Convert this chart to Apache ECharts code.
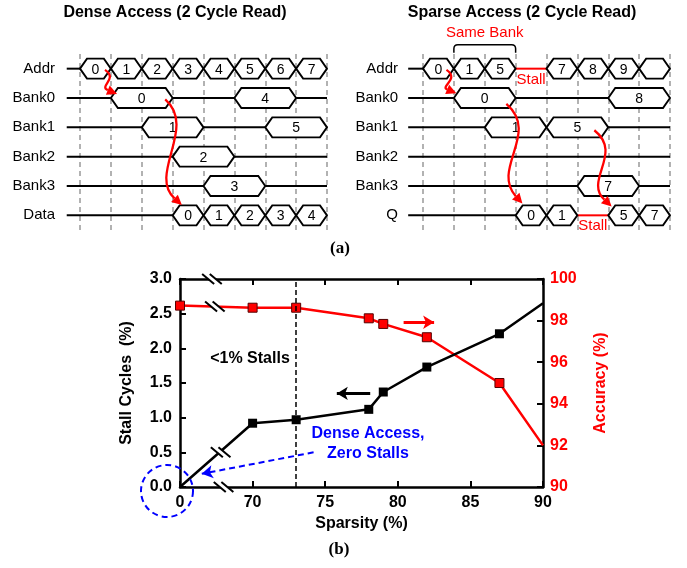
<!DOCTYPE html>
<html>
<head>
<meta charset="utf-8">
<script src="https://cdn.jsdelivr.net/npm/echarts@6/dist/echarts.min.js"></script>
<style>
  html, body { margin: 0; padding: 0; background: #fff; }
  #chart { width: 687px; height: 568px; }
</style>
</head>
<body>
<div id="chart"></div>
<script>
// ---- (a) timing diagrams ----
const denseRows = ['Addr', 'Bank0', 'Bank1', 'Bank2', 'Bank3', 'Data'];
const sparseRows = ['Addr', 'Bank0', 'Bank1', 'Bank2', 'Bank3', 'Q'];

// [row, startCycle, endCycle, color, label]
const denseWires = [
  [0, -0.43, 0], [1, -0.43, 1], [1, 3, 5], [1, 7, 8],
  [2, -0.43, 2], [2, 4, 6], [3, -0.43, 3], [3, 5, 8],
  [4, -0.43, 4], [4, 6, 8], [5, -0.43, 3]
];
// [row, startCycle, endCycle, text]
const denseHex = [
  [0, 0, 1, '0'], [0, 1, 2, '1'], [0, 2, 3, '2'], [0, 3, 4, '3'],
  [0, 4, 5, '4'], [0, 5, 6, '5'], [0, 6, 7, '6'], [0, 7, 8, '7'],
  [1, 1, 3, '0'], [1, 5, 7, '4'], [2, 2, 4, '1'], [2, 6, 8, '5'],
  [3, 3, 5, '2'], [4, 4, 6, '3'],
  [5, 3, 4, '0'], [5, 4, 5, '1'], [5, 5, 6, '2'], [5, 6, 7, '3'], [5, 7, 8, '4']
];
// bezier: start, ctrl1, ctrl2, end as [cycle, row]
const denseArrows = [
  [0.81, 0.04, 1.25, 0.35, 0.6, 0.6, 1.2, 0.86],
  [2.76, 1.05, 3.8, 2.0, 2.2, 3.6, 3.3, 4.65]
];

const sparseWires = [
  [0, -0.48, 0], [0, 3, 4, '#ff0000', 'Stall'], [1, -0.48, 1], [1, 3, 6],
  [2, -0.48, 2], [2, 6, 8], [3, -0.48, 8], [4, -0.48, 5], [4, 7, 8],
  [5, -0.48, 3], [5, 5, 6, '#ff0000', 'Stall']
];
const sparseHex = [
  [0, 0, 1, '0'], [0, 1, 2, '1'], [0, 2, 3, '5'], [0, 4, 5, '7'],
  [0, 5, 6, '8'], [0, 6, 7, '9'], [0, 7, 8, ''],
  [1, 1, 3, '0'], [1, 6, 8, '8'], [2, 2, 4, '1'], [2, 4, 6, '5'],
  [4, 5, 7, '7'],
  [5, 3, 4, '0'], [5, 4, 5, '1'], [5, 6, 7, '5'], [5, 7, 8, '7']
];
const sparseArrows = [
  [0.76, 0.04, 1.2, 0.35, 0.55, 0.6, 1.08, 0.84],
  [2.7, 1.2, 3.8, 2.2, 2.2, 3.4, 3.22, 4.6],
  [5.55, 2.1, 6.5, 2.9, 5.2, 3.8, 6.11, 4.7]
];
const sameBank = [1, 3, 'Same Bank'];

// ---- (b) stall cycles / accuracy vs sparsity ----
const sparsity = [0, 70, 73, 78, 79, 82, 87, 90];
const stallCycles = [0, 0.92, 0.97, 1.12, 1.37, 1.73, 2.21, 2.65];
const accuracy = [98.72, 98.62, 98.62, 98.11, 97.84, 97.2, 95.0, 92.0];

// 축 끊김: 0% 는 65 위치에 그림
const AXIS_START = 65;
const xPos = s => (s === 0 ? AXIS_START : s);

const stallBreaks = [[67.2, 3.0], [68.0, 0], [67.8, 0.5]];
const accBreaks = [[67.4, 98.68]];

const FONT = 'Arial, "Liberation Sans", sans-serif';
const RED = '#ff0000';
const BLUE = '#0000ff';

function wireRenderer(list) {
  return function (params, api) {
    const [row, x0, x1, color, label] = list[params.dataIndex];
    const a = api.coord([x0, row]);
    const b = api.coord([x1, row]);
    const children = [{
      type: 'line',
      shape: { x1: a[0], y1: a[1], x2: b[0], y2: b[1] },
      style: { stroke: color || '#000', lineWidth: 2 }
    }];
    if (label) {
      children.push({
        type: 'text',
        style: {
          text: label, x: (a[0] + b[0]) / 2, y: a[1] + 11,
          align: 'center', verticalAlign: 'middle',
          font: '15px ' + FONT, fill: RED
        }
      });
    }
    return { type: 'group', children };
  };
}

function hexRenderer(list) {
  return function (params, api) {
    const [row, x0, x1, text] = list[params.dataIndex];
    const a = api.coord([x0, row]);
    const b = api.coord([x1, row]);
    const y = a[1], h = 10, s = 7;
    return {
      type: 'group',
      children: [
        {
          type: 'polygon',
          shape: { points: [[a[0], y], [a[0] + s, y - h], [b[0] - s, y - h], [b[0], y], [b[0] - s, y + h], [a[0] + s, y + h]] },
          style: { fill: '#fff', stroke: '#000', lineWidth: 1.9 }
        },
        {
          type: 'text',
          style: {
            text, x: (a[0] + b[0]) / 2, y: y + 1,
            align: 'center', verticalAlign: 'middle',
            font: '14px ' + FONT, fill: '#000'
          }
        }
      ]
    };
  };
}

function arrowRenderer(list) {
  return function (params, api) {
    const c = list[params.dataIndex];
    const origin = api.coord([0, 0]);
    const step = api.coord([0, 1])[1] - origin[1];
    const pt = (x, r) => [api.coord([x, 0])[0], origin[1] + r * step];
    const p0 = pt(c[0], c[1]), p1 = pt(c[2], c[3]), p2 = pt(c[4], c[5]), p3 = pt(c[6], c[7]);
    const dx = p3[0] - p2[0], dy = p3[1] - p2[1];
    const len = Math.hypot(dx, dy);
    const ux = dx / len, uy = dy / len;
    const L = 10, W = 5;
    const base = [p3[0] - ux * L, p3[1] - uy * L];
    return {
      type: 'group',
      children: [
        {
          type: 'bezierCurve',
          shape: { x1: p0[0], y1: p0[1], cpx1: p1[0], cpy1: p1[1], cpx2: p2[0], cpy2: p2[1], x2: base[0], y2: base[1] },
          style: { stroke: RED, lineWidth: 2.3, fill: null }
        },
        {
          type: 'polygon',
          shape: { points: [p3, [base[0] - uy * W, base[1] + ux * W], [base[0] + uy * W, base[1] - ux * W]] },
          style: { fill: RED }
        }
      ]
    };
  };
}

function bracketRenderer(params, api) {
  const a = api.coord([sameBank[0], 0]);
  const b = api.coord([sameBank[1], 0]);
  const y = a[1] - 24;
  const r = 4;
  return {
    type: 'group',
    children: [
      {
        type: 'path',
        shape: {
          pathData: `M${a[0]},${y + 8} L${a[0]},${y + r} Q${a[0]},${y} ${a[0] + r},${y} L${b[0] - r},${y} Q${b[0]},${y} ${b[0]},${y + r} L${b[0]},${y + 8}`
        },
        style: { stroke: '#000', lineWidth: 1.5, fill: null }
      },
      {
        type: 'text',
        style: {
          text: sameBank[2], x: (a[0] + b[0]) / 2, y: y - 12,
          align: 'center', verticalAlign: 'middle',
          font: '15px ' + FONT, fill: RED
        }
      }
    ]
  };
}

function breakRenderer(list) {
  return function (params, api) {
    const p = api.coord(list[params.dataIndex]);
    const [cx, cy] = p;
    const sx = 6, sy = 5, off = 3.8;
    return {
      type: 'group',
      children: [
        {
          type: 'polygon',
          shape: { points: [[cx - sx - off, cy - sy], [cx - sx + off, cy - sy], [cx + sx + off, cy + sy], [cx + sx - off, cy + sy]] },
          style: { fill: '#fff' }
        },
        { type: 'line', shape: { x1: cx - sx - off, y1: cy - sy, x2: cx + sx - off, y2: cy + sy }, style: { stroke: '#000', lineWidth: 2 } },
        { type: 'line', shape: { x1: cx - sx + off, y1: cy - sy, x2: cx + sx + off, y2: cy + sy }, style: { stroke: '#000', lineWidth: 2 } }
      ]
    };
  };
}

function timingXAxis(gridIndex) {
  return {
    gridIndex, type: 'value', min: 0, max: 8, interval: 1,
    axisLine: { show: false }, axisTick: { show: false }, axisLabel: { show: false },
    splitLine: { show: true, lineStyle: { color: '#999', width: 1.5, type: [5, 4] } }
  };
}

function timingYAxis(gridIndex, rows) {
  return {
    gridIndex, type: 'category', data: rows, inverse: true,
    axisLine: { show: false }, axisTick: { show: false }, splitLine: { show: false },
    axisLabel: { color: '#000', fontSize: 15, fontFamily: FONT, margin: 25 }
  };
}

function customSeries(name, xi, yi, list, renderItem, z) {
  return {
    name, type: 'custom', xAxisIndex: xi, yAxisIndex: yi, clip: false, silent: true, z,
    data: list.map(d => [d[0], d[1]]),
    renderItem
  };
}

const axisLineStyle = { color: '#000', width: 2.5 };
const boldLabel = { color: '#000', fontSize: 16, fontWeight: 'bold', fontFamily: FONT };

const chart = echarts.init(document.getElementById('chart'));

chart.setOption({
  animation: false,
  backgroundColor: '#fff',
  grid: [
    { left: 80, top: 54, width: 247, height: 176 },
    { left: 423, top: 54, width: 247, height: 176 },
    { left: 180, right: 144, top: 279, bottom: 81 }
  ],
  xAxis: [
    timingXAxis(0),
    timingXAxis(1),
    {
      gridIndex: 2, type: 'value', min: 65, max: 90, interval: 5,
      axisLine: { lineStyle: axisLineStyle },
      axisTick: { inside: true, length: 6, lineStyle: { width: 2, color: '#000' } },
      axisLabel: { ...boldLabel, margin: 8, formatter: v => (v === AXIS_START ? '0' : String(v)) },
      splitLine: { show: false },
      name: 'Sparsity (%)', nameLocation: 'middle', nameGap: 29,
      nameTextStyle: { ...boldLabel }
    },
    {
      gridIndex: 2, type: 'value', min: 65, max: 90, interval: 5, position: 'top',
      axisLine: { lineStyle: axisLineStyle },
      axisTick: { inside: true, length: 6, lineStyle: { width: 2, color: '#000' } },
      axisLabel: { show: false }, splitLine: { show: false }
    }
  ],
  yAxis: [
    timingYAxis(0, denseRows),
    timingYAxis(1, sparseRows),
    {
      gridIndex: 2, type: 'value', min: 0, max: 3, interval: 0.5, position: 'left',
      axisLine: { show: true, lineStyle: axisLineStyle },
      axisTick: { show: true, inside: true, length: 6, lineStyle: { width: 2, color: '#000' } },
      axisLabel: { ...boldLabel, margin: 8, formatter: v => v.toFixed(1) },
      splitLine: { show: false },
      name: 'Stall Cycles  (%)', nameLocation: 'middle', nameGap: 45, nameRotate: 90,
      nameTextStyle: { ...boldLabel }
    },
    {
      gridIndex: 2, type: 'value', min: 90, max: 100, interval: 2, position: 'right',
      axisLine: { show: true, lineStyle: axisLineStyle },
      axisTick: { show: true, inside: true, length: 6, lineStyle: { width: 2, color: '#000' } },
      axisLabel: { ...boldLabel, color: RED, margin: 7 },
      splitLine: { show: false },
      name: 'Accuracy (%)', nameLocation: 'middle', nameGap: 50, nameRotate: 90,
      nameTextStyle: { ...boldLabel, color: RED }
    }
  ],
  graphic: [
    { type: 'text', x: 175, y: 13, style: { text: 'Dense Access (2 Cycle Read)', align: 'center', verticalAlign: 'middle', font: 'bold 16px ' + FONT, fill: '#000' } },
    { type: 'text', x: 522, y: 13, style: { text: 'Sparse Access (2 Cycle Read)', align: 'center', verticalAlign: 'middle', font: 'bold 16px ' + FONT, fill: '#000' } },
    { type: 'text', x: 340, y: 249, style: { text: '(a)', align: 'center', verticalAlign: 'middle', font: 'bold 17px "Liberation Serif", "Times New Roman", serif', fill: '#000' } },
    { type: 'text', x: 339, y: 550, style: { text: '(b)', align: 'center', verticalAlign: 'middle', font: 'bold 17px "Liberation Serif", "Times New Roman", serif', fill: '#000' } },
    { type: 'text', x: 250, y: 359, style: { text: '<1% Stalls', align: 'center', verticalAlign: 'middle', font: 'bold 16px ' + FONT, fill: '#000' } },
    { type: 'text', x: 368, y: 434, style: { text: 'Dense Access,', align: 'center', verticalAlign: 'middle', font: 'bold 16px ' + FONT, fill: BLUE } },
    { type: 'text', x: 368, y: 454, style: { text: 'Zero Stalls', align: 'center', verticalAlign: 'middle', font: 'bold 16px ' + FONT, fill: BLUE } }
  ],
  series: [
    customSeries('denseWires', 0, 0, denseWires.map(d => [d[1], d[0]]), wireRenderer(denseWires), 2),
    customSeries('denseHex', 0, 0, denseHex.map(d => [d[1], d[0]]), hexRenderer(denseHex), 3),
    customSeries('denseArrows', 0, 0, denseArrows, arrowRenderer(denseArrows), 4),
    customSeries('sparseWires', 1, 1, sparseWires.map(d => [d[1], d[0]]), wireRenderer(sparseWires), 2),
    customSeries('sparseHex', 1, 1, sparseHex.map(d => [d[1], d[0]]), hexRenderer(sparseHex), 3),
    customSeries('sparseArrows', 1, 1, sparseArrows, arrowRenderer(sparseArrows), 4),
    customSeries('sameBank', 1, 1, [sameBank], bracketRenderer, 4),
    {
      name: 'Accuracy', type: 'line', xAxisIndex: 2, yAxisIndex: 3, z: 3,
      data: sparsity.map((s, i) => ({
        value: [xPos(s), accuracy[i]],
        symbol: i === sparsity.length - 1 ? 'none' : 'rect'
      })),
      symbolSize: 9,
      lineStyle: { color: RED, width: 2.5 },
      itemStyle: { color: RED, borderColor: '#500', borderWidth: 1 },
      markLine: {
        silent: true, label: { show: false }, symbol: 'none',
        data: [
          [
            { coord: [80.4, 97.92], symbol: 'none' },
            { coord: [82.5, 97.92], symbol: 'arrow', symbolSize: [10, 11] }
          ]
        ],
        lineStyle: { color: RED, width: 3, type: 'solid' }
      }
    },
    {
      name: 'Stall Cycles', type: 'line', xAxisIndex: 2, yAxisIndex: 2, z: 4,
      data: sparsity.map((s, i) => ({
        value: [xPos(s), stallCycles[i]],
        symbol: (i === 0 || i === sparsity.length - 1) ? 'none' : 'rect'
      })),
      symbolSize: 9,
      lineStyle: { color: '#000', width: 2.5 },
      itemStyle: { color: '#000' },
      markLine: {
        silent: true, label: { show: false }, symbol: 'none',
        data: [
          { xAxis: 73, lineStyle: { color: '#000', width: 1.5, type: [5, 3] } },
          [
            { coord: [78.1, 1.35], symbol: 'none', lineStyle: { color: '#000', width: 3, type: 'solid' } },
            { coord: [75.8, 1.35], symbol: 'arrow', symbolSize: [10, 11] }
          ],
          [
            { coord: [74.2, 0.5], symbol: 'none', lineStyle: { color: BLUE, width: 2, type: [6, 4] } },
            { coord: [66.5, 0.19], symbol: 'arrow', symbolSize: [10, 11] }
          ]
        ]
      },
      markPoint: {
        silent: true,
        data: [{
          coord: [AXIS_START, 0], symbol: 'circle', symbolSize: 52, symbolOffset: [-13, 4],
          itemStyle: { color: 'rgba(0,0,0,0)', borderColor: BLUE, borderWidth: 2, borderType: [6, 4] },
          label: { show: false }
        }]
      }
    },
    customSeries('stallBreaks', 2, 2, stallBreaks, breakRenderer(stallBreaks), 6),
    customSeries('accBreaks', 2, 3, accBreaks, breakRenderer(accBreaks), 6)
  ]
});
</script>
</body>
</html>
